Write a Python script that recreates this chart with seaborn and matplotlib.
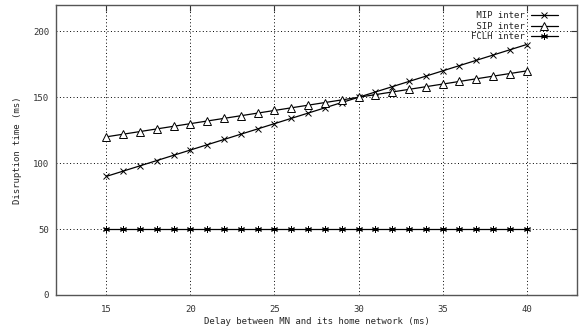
import matplotlib
matplotlib.use("Agg")
import matplotlib.pyplot as plt
import seaborn as sns
import pandas as pd
import numpy as np

delay = list(range(15, 41))
mip = [90 + 4 * (d - 15) for d in delay]
sip = [120 + 2 * (d - 15) for d in delay]
fclh = [50 for d in delay]
series_names = ["MIP inter", "SIP inter", "FCLH inter"]
xticks = [15, 20, 25, 30, 35, 40]
yticks = [0, 50, 100, 150, 200]

sns.set_style("white")
plt.rcParams['font.family'] = ['DejaVu Sans Mono']

df = pd.concat([
    pd.DataFrame({"delay": delay, "val": mip, "s": series_names[0]}),
    pd.DataFrame({"delay": delay, "val": sip, "s": series_names[1]}),
    pd.DataFrame({"delay": delay, "val": fclh, "s": series_names[2]}),
])

fig = plt.figure(figsize=(5.81, 3.31), dpi=100)
ax = fig.add_axes([56/581, 1 - 295/331, (577-56)/581, (295-5)/331])

width = max(len(n) for n in series_names)
markers = {"MIP inter": "x", "SIP inter": "^", "FCLH inter": (6, 2, 0)}
for name in series_names:
    sub = df[df.s == name]
    mk = markers[name]
    kw = dict(markersize=5, markeredgewidth=0.7, markeredgecolor="black")
    if name == "SIP inter":
        kw.update(markerfacecolor="white", markersize=5.5)
    sns.lineplot(data=sub, x="delay", y="val", ax=ax, color="black", lw=0.9,
                 marker=mk, label=name.rjust(width), **kw)

ax.set_xlim(12, 43)
ax.set_ylim(0, 220)
ax.set_xticks(xticks)
ax.set_yticks(yticks)
ax.grid(True, color="black", linestyle=(0, (1, 2.5)), linewidth=0.7)
for sp in ax.spines.values():
    sp.set_color("#555555")
    sp.set_linewidth(1)
ax.tick_params(axis="both", labelsize=6.5, length=4, direction="in", colors="#333333",
               top=True, right=True)
ax.tick_params(axis="x", pad=7)
ax.tick_params(axis="y", pad=5)
ax.set_xlabel("Delay between MN and its home network (ms)", fontsize=6.5)
ax.set_ylabel("Disruption time (ms)", fontsize=6.5)
ax.xaxis.set_label_coords(0.5, -0.075)
ax.yaxis.set_label_coords(-0.065, 0.5)
leg = ax.legend(loc="upper right", bbox_to_anchor=(0.975, 1.0), markerfirst=False,
                frameon=False, fontsize=6.5,
                handlelength=3, handletextpad=0.6, labelspacing=0.15,
                borderaxespad=0.3)
fig.savefig("out.png", dpi=100)
